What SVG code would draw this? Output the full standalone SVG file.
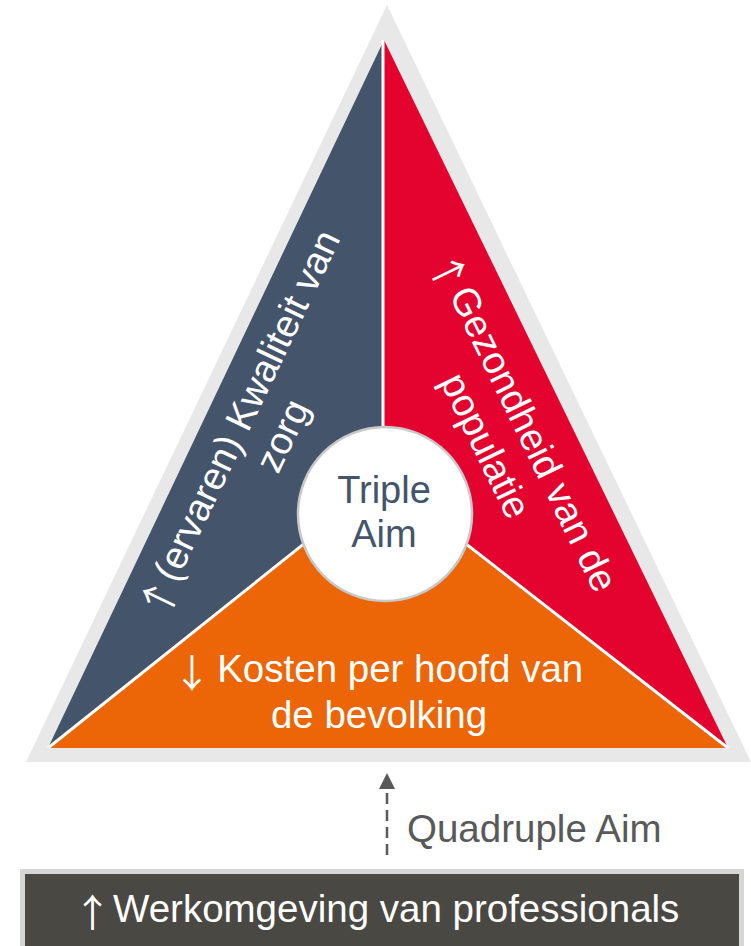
<svg xmlns="http://www.w3.org/2000/svg" width="751" height="946" viewBox="0 0 751 946">
<style>
text{font-family:"Liberation Sans",Arial,sans-serif;font-size:38.5px}
.w{fill:#FFFFFF}
.arr{font-family:"Noto Sans CJK JP","Liberation Sans",sans-serif}
.div{stroke:#FFFFFF;stroke-width:3;fill:none}
</style>
<rect width="751" height="946" fill="#FFFFFF"/>
<g id="frame">
<polygon points="387,5 26,762 751,762" fill="#E8E8E8"/>
</g>
<g id="quality">
<polygon points="384,40 48,748 384,748" fill="#44546A"/>
<g transform="translate(285,437) rotate(-64.5)">
<text class="w"><tspan class="arr" x="-219" y="-30">↑</tspan><tspan x="-179.5" y="-35">(ervaren) Kwaliteit van</tspan></text>
<text class="w" x="0" y="10" text-anchor="middle">zorg</text>
</g>
</g>
<g id="health">
<polygon points="384,40 384,748 728,748" fill="#E4032E"/>
<g transform="translate(483,447) rotate(64)">
<text class="w"><tspan class="arr" x="-191.5" y="-31">↑</tspan><tspan x="-152" y="-36">Gezondheid van de</tspan></text>
<text class="w" x="0" y="10" text-anchor="middle">populatie</text>
</g>
</g>
<g id="costs">
<polygon points="48,748 384,480 728,748" fill="#EC6608"/>
<text class="w"><tspan class="arr" x="172.75" y="687">↓</tspan><tspan x="217.2" y="682">Kosten per hoofd van</tspan></text>
<text class="w" x="379" y="728" text-anchor="middle">de bevolking</text>
</g>
<g id="dividers">
<line class="div" x1="383" y1="40" x2="383" y2="480"/>
<line class="div" x1="48" y1="748" x2="384" y2="480"/>
<line class="div" x1="728" y1="748" x2="384" y2="480"/>
</g>
<g id="triple-aim">
<circle cx="385" cy="514" r="87" fill="#FFFFFF" stroke="#C8C8C8" stroke-width="2.5"/>
<text x="384" y="503" text-anchor="middle" fill="#44546A" style="font-size:38px">Triple</text>
<text x="384" y="547" text-anchor="middle" fill="#44546A" style="font-size:38px">Aim</text>
</g>
<g id="connectors">
<line x1="387" y1="855" x2="387" y2="789" stroke="#595959" stroke-width="2.5" stroke-dasharray="11 6"/>
<polygon points="387,773 379,789 395,789" fill="#595959"/>
<text x="407" y="842" fill="#595959">Quadruple Aim</text>
</g>
<g id="workplace">
<rect x="22.5" y="871.5" width="719" height="80" fill="#4A4843" stroke="#D6D6D6" stroke-width="5"/>
<text class="w"><tspan class="arr" x="73.25" y="927">↑</tspan><tspan x="113" y="922">Werkomgeving van professionals</tspan></text>
</g>
</svg>
